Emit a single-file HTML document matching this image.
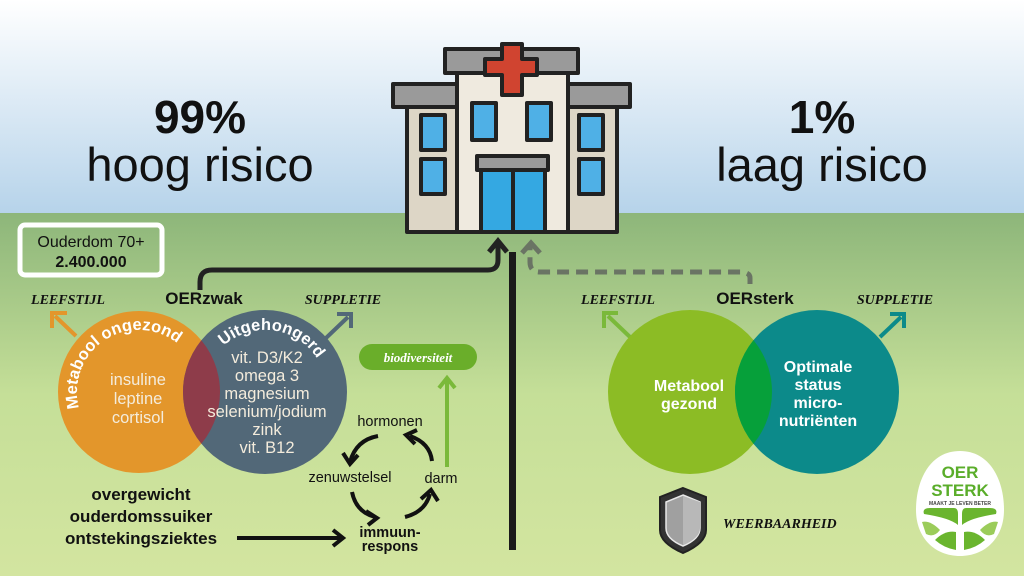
<!DOCTYPE html>
<html><head><meta charset="utf-8"><style>
html,body{margin:0;padding:0;width:1024px;height:576px;overflow:hidden}
svg{display:block}
text{font-family:"Liberation Sans",sans-serif}
.it{font-family:"Liberation Serif",serif;font-style:italic;font-weight:bold}
</style></head><body>
<svg width="1024" height="576" viewBox="0 0 1024 576" xmlns="http://www.w3.org/2000/svg">
<defs>
<linearGradient id="sky" x1="0" y1="0" x2="0" y2="1"><stop offset="0" stop-color="#ffffff"/><stop offset="1" stop-color="#b6d3ea"/></linearGradient>
<linearGradient id="gr" x1="0" y1="0" x2="0" y2="1"><stop offset="0" stop-color="#8db67a"/><stop offset="0.5" stop-color="#c5df98"/><stop offset="1" stop-color="#d3e5a0"/></linearGradient>
<clipPath id="co"><circle cx="139" cy="392" r="81"/></clipPath>
<clipPath id="cg"><circle cx="690" cy="392" r="82"/></clipPath>
<path id="arcL" d="M79.1,408.1 A62,62 0 0 1 180.5,345.9"/>
<path id="arcR" d="M223.5,345.9 A62,62 0 0 1 321.2,365.8"/>
</defs>
<rect width="1024" height="214" fill="url(#sky)"/>
<rect y="213" width="1024" height="363" fill="url(#gr)"/>

<text x="200" y="133" font-size="46" font-weight="bold" text-anchor="middle" fill="#111">99%</text>
<text x="200" y="181" font-size="47" text-anchor="middle" fill="#111">hoog risico</text>
<text x="822" y="133" font-size="46" font-weight="bold" text-anchor="middle" fill="#111">1%</text>
<text x="822" y="181" font-size="47" text-anchor="middle" fill="#111">laag risico</text>

<!-- building -->
<g stroke="#222" stroke-width="4" stroke-linejoin="round">
<rect x="407" y="105" width="210" height="127" fill="#ddd6c6"/>
<rect x="393" y="84" width="237" height="23" fill="#9a9a9a"/>
<rect x="457" y="71" width="111" height="161" fill="#efeadf"/>
<rect x="445" y="49" width="133" height="24" fill="#9a9a9a"/>
<path d="M502,44h20v15h15v16h-15v20h-20v-20h-17v-16h17z" fill="#d04430"/>
<rect x="472" y="103" width="24" height="37" fill="#4fb0e6"/>
<rect x="527" y="103" width="24" height="37" fill="#4fb0e6"/>
<rect x="421" y="115" width="24" height="35" fill="#4fb0e6"/>
<rect x="421" y="159" width="24" height="35" fill="#4fb0e6"/>
<rect x="579" y="115" width="24" height="35" fill="#4fb0e6"/>
<rect x="579" y="159" width="24" height="35" fill="#4fb0e6"/>
<rect x="481" y="169" width="64" height="63" fill="#34a8e2"/>
<line x1="513" y1="169" x2="513" y2="232"/>
<rect x="477" y="156" width="71" height="14" fill="#9a9a9a"/>
</g>

<!-- connectors -->
<rect x="509" y="252" width="7" height="298" fill="#1a1a1a"/>
<path d="M200,290 V282 Q200,270 212,270 H488 Q498,270 498,260 V242" fill="none" stroke="#222" stroke-width="5"/>
<path d="M489,252 L498,241 L507,252" fill="none" stroke="#222" stroke-width="5"/>
<path d="M750,284 V278 Q750,272 740,272 H540 Q530,272 530,262 V244" fill="none" stroke="#6a7464" stroke-width="5" stroke-dasharray="12,7"/>
<path d="M522,253 L531,243 L540,253" fill="none" stroke="#6a7464" stroke-width="5"/>

<!-- left box -->
<rect x="20" y="225" width="142" height="50" rx="5" fill="none" stroke="#fff" stroke-width="5"/>
<text x="91" y="247" font-size="16" text-anchor="middle" fill="#111">Ouderdom 70+</text>
<text x="91" y="267" font-size="16" font-weight="bold" text-anchor="middle" fill="#111">2.400.000</text>

<text class="it" x="68" y="304" font-size="14" text-anchor="middle" fill="#111">LEEFSTIJL</text>
<text x="204" y="304" font-size="17" font-weight="bold" text-anchor="middle" fill="#111">OERzwak</text>
<text class="it" x="343" y="304" font-size="14" text-anchor="middle" fill="#111">SUPPLETIE</text>

<path d="M76,336 L55,316 M52,328 V313 H67" fill="none" stroke="#e3962b" stroke-width="4"/>
<path d="M326,338 L348,317 M337,314 H351 V328" fill="none" stroke="#526878" stroke-width="4"/>

<circle cx="139" cy="392" r="81" fill="#e3962b"/>
<circle cx="265" cy="392" r="82" fill="#526878"/>
<circle cx="265" cy="392" r="82" fill="#8e3c4a" clip-path="url(#co)"/>
<text font-size="16.5" font-weight="bold" fill="#fff"><textPath href="#arcL">Metabool ongezond</textPath></text>
<text font-size="16.5" font-weight="bold" fill="#fff"><textPath href="#arcR">Uitgehongerd</textPath></text>
<g font-size="16.5" fill="#f4ecdc" text-anchor="middle">
<text x="138" y="385">insuline</text><text x="138" y="404">leptine</text><text x="138" y="423">cortisol</text>
<text x="267" y="363">vit. D3/K2</text><text x="267" y="381">omega 3</text><text x="267" y="399">magnesium</text>
<text x="267" y="417">selenium/jodium</text><text x="267" y="435">zink</text><text x="267" y="453">vit. B12</text>
</g>

<g font-size="17" font-weight="bold" fill="#111" text-anchor="middle">
<text x="141" y="500">overgewicht</text><text x="141" y="522">ouderdomssuiker</text><text x="141" y="544">ontstekingsziektes</text>
</g>
<path d="M237,538 H340" stroke="#111" stroke-width="4"/>
<path d="M333,530 L343,538 L333,546" fill="none" stroke="#111" stroke-width="4"/>

<rect x="359" y="344" width="118" height="26" rx="13" fill="#6aae2a"/>
<text class="it" x="418" y="362" font-size="13" text-anchor="middle" fill="#fff">biodiversiteit</text>
<path d="M447,467 V380" stroke="#7ab93a" stroke-width="4"/>
<path d="M439,388 L447,378 L455,388" fill="none" stroke="#7ab93a" stroke-width="4"/>

<g font-size="14.5" fill="#111" text-anchor="middle">
<text x="390" y="426">hormonen</text>
<text x="350" y="482">zenuwstelsel</text>
<text x="441" y="483">darm</text>
</g>
<text x="390" y="537" font-size="14.5" font-weight="bold" text-anchor="middle" fill="#111">immuun-</text>
<text x="390" y="551" font-size="14.5" font-weight="bold" text-anchor="middle" fill="#111">respons</text>
<g fill="none" stroke="#111" stroke-width="4">
<path d="M378,436 Q356,440 350,462"/><path d="M343,453 L350,464 L358,455"/>
<path d="M432,461 Q430,443 410,436"/><path d="M417,430 L406,435 L415,444"/>
<path d="M352,492 Q356,512 375,517"/><path d="M366,511 L377,518 L368,525"/>
<path d="M405,517 Q425,512 430,494"/><path d="M421,499 L431,490 L438,501"/>
</g>

<!-- right -->
<text class="it" x="618" y="304" font-size="14" text-anchor="middle" fill="#111">LEEFSTIJL</text>
<text x="755" y="304" font-size="17" font-weight="bold" text-anchor="middle" fill="#111">OERsterk</text>
<text class="it" x="895" y="304" font-size="14" text-anchor="middle" fill="#111">SUPPLETIE</text>
<path d="M630,337 L608,316 M604,328 V313 H618" fill="none" stroke="#7ab93a" stroke-width="4"/>
<path d="M880,337 L901,317 M890,314 H904 V328" fill="none" stroke="#0c8a8a" stroke-width="4"/>
<circle cx="690" cy="392" r="82" fill="#8cbc25"/>
<circle cx="817" cy="392" r="82" fill="#0c8a8a"/>
<circle cx="817" cy="392" r="82" fill="#06a03a" clip-path="url(#cg)"/>
<g font-size="16" font-weight="bold" fill="#fff" text-anchor="middle">
<text x="689" y="391">Metabool</text><text x="689" y="409">gezond</text>
<text x="818" y="372">Optimale</text><text x="818" y="390">status</text><text x="818" y="408">micro-</text><text x="818" y="426">nutriënten</text>
</g>

<!-- shield -->
<path d="M683,488 L706,497 V530 Q706,543 683,553 Q660,543 660,530 V497 Z" fill="#333" stroke="#222" stroke-width="2"/>
<path d="M683,495 L700,502 V528 Q700,539 683,546 Q666,539 666,528 V502 Z" fill="#a0a0a0" stroke="#e8e8e8" stroke-width="1.5"/>
<path d="M683,496 V545 Q700,538 700,528 V502 Z" fill="#b8b8b8"/>
<text class="it" x="723" y="528" font-size="14" fill="#111">WEERBAARHEID</text>

<!-- logo -->
<path d="M960,451 C990,451 1004,480 1004,510 C1004,538 985,556 960,556 C935,556 916,538 916,510 C916,480 930,451 960,451 Z" fill="#fff"/>
<text x="960" y="478" font-size="17" font-weight="bold" text-anchor="middle" fill="#5aad2a">OER</text>
<text x="960" y="496" font-size="17" font-weight="bold" text-anchor="middle" fill="#5aad2a">STERK</text>
<text x="960" y="505" font-size="5" font-weight="bold" text-anchor="middle" fill="#444">MAAKT JE LEVEN BETER</text>
<path d="M924,514 Q922,508 930,508 H954 Q958,508 958,514 V525 Q950,518 924,514 Z" fill="#6ab52e"/>
<path d="M996,514 Q998,508 990,508 H966 Q962,508 962,514 V525 Q970,518 996,514 Z" fill="#6ab52e"/>
<path d="M922,522 Q930,520 940,530 Q934,538 926,534 Z" fill="#9bcc5a"/>
<path d="M998,522 Q990,520 980,530 Q986,538 994,534 Z" fill="#9bcc5a"/>
<path d="M935,540 Q945,530 956,532 V550 Q944,548 935,540 Z" fill="#6ab52e"/>
<path d="M985,540 Q975,530 964,532 V550 Q976,548 985,540 Z" fill="#6ab52e"/>
</svg>
</body></html>
